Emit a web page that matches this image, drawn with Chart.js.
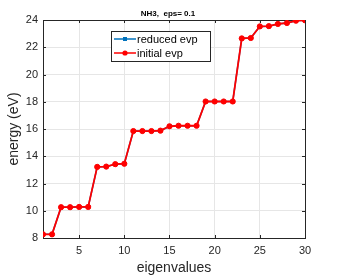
<!DOCTYPE html>
<html><head><meta charset="utf-8">
<script src="https://cdn.jsdelivr.net/npm/chart.js@4/dist/chart.umd.min.js"></script>
<style>html,body{margin:0;padding:0;background:#fff}</style>
</head><body>
<canvas id="c" width="338" height="276"></canvas>
<script>
const eigenIndex = [1,2,3,4,5,6,7,8,9,10,11,12,13,14,15,16,17,18,19,20,21,22,23,24,25,26,27,28,29,30];
const reducedEvp = [8.27,8.27,10.26,10.26,10.28,10.28,13.22,13.24,13.42,13.45,15.85,15.85,15.85,15.88,16.2,16.24,16.24,16.24,18.02,18.02,18.02,18.02,22.65,22.68,23.53,23.55,23.71,23.78,23.95,23.98];
const initialEvp = [8.27,8.27,10.26,10.26,10.28,10.28,13.22,13.24,13.42,13.45,15.85,15.85,15.85,15.88,16.2,16.24,16.24,16.24,18.02,18.02,18.02,18.02,22.65,22.68,23.53,23.55,23.71,23.78,23.95,23.98];
const xTicks = [5,10,15,20,25,30];
const yTicks = [8,10,12,14,16,18,20,22,24];
const seriesNames = ['reduced evp','initial evp'];
const chartTitle = 'NH3,  eps= 0.1';
const xLabel = 'eigenvalues';
const yLabel = 'energy (eV)';

const BLUE = '#0072BD', RED = '#FF0000', AX = '#262626';
const FONT = 'Liberation Sans, Arial, Helvetica, sans-serif';

const toPts = arr => eigenIndex.map((x,i)=>({x:x,y:arr[i]}));

const boxPlugin = {
  id:'boxPlugin',
  beforeDatasetsDraw(chart){
    const {ctx, chartArea:a, scales} = chart;
    ctx.save();
    ctx.strokeStyle = AX; ctx.lineWidth = 1;
    ctx.strokeRect(Math.round(a.left)+0.5, Math.round(a.top)+0.5, Math.round(a.right-a.left), Math.round(a.bottom-a.top));
    const tl = 3;
    ctx.beginPath();
    xTicks.forEach(v=>{const px=Math.round(scales.x.getPixelForValue(v))+0.5;
      ctx.moveTo(px,a.bottom); ctx.lineTo(px,a.bottom-tl);
      ctx.moveTo(px,a.top); ctx.lineTo(px,a.top+tl);});
    yTicks.forEach(v=>{const py=Math.round(scales.y.getPixelForValue(v))+0.5;
      ctx.moveTo(a.left,py); ctx.lineTo(a.left+tl,py);
      ctx.moveTo(a.right,py); ctx.lineTo(a.right-tl,py);});
    ctx.stroke();
    ctx.restore();
  },
  afterDraw(chart){
    const {ctx} = chart;
    ctx.save();
    ctx.fillStyle = '#000';
    ctx.font = 'bold 8px ' + FONT;
    ctx.textAlign = 'center'; ctx.textBaseline = 'middle';
    ctx.fillText(chartTitle, 168, 14);
    const lx=111, ly=31, lw=99, lh=30;
    ctx.fillStyle='#fff'; ctx.fillRect(lx,ly,lw,lh);
    ctx.strokeStyle='#262626'; ctx.lineWidth=1;
    ctx.strokeRect(lx+0.5,ly+0.5,lw,lh);
    const rows=[{c:BLUE,sq:true,y:39},{c:RED,sq:false,y:53}];
    rows.forEach((r,i)=>{
      ctx.strokeStyle=r.c; ctx.fillStyle=r.c; ctx.lineWidth=1.5;
      ctx.beginPath(); ctx.moveTo(114,r.y); ctx.lineTo(136,r.y); ctx.stroke();
      ctx.beginPath();
      if(r.sq){ctx.fillRect(123,r.y-2,4,4);} else {ctx.arc(125,r.y,2.6,0,Math.PI*2); ctx.fill();}
      ctx.fillStyle='#000'; ctx.font='11px '+FONT; ctx.textAlign='left'; ctx.textBaseline='middle';
      ctx.fillText(seriesNames[i],137,r.y+0.5);
    });
    ctx.restore();
  }
};

new Chart(document.getElementById('c'), {
  type:'line',
  data:{datasets:[
    {label:seriesNames[0], data:toPts(reducedEvp), borderColor:BLUE, backgroundColor:BLUE, borderWidth:1.5, pointStyle:'rect', pointRadius:2.2, pointBorderWidth:1, pointHoverRadius:2.2, order:2},
    {label:seriesNames[1], data:toPts(initialEvp), borderColor:RED, backgroundColor:RED, borderWidth:1.8, pointStyle:'circle', pointRadius:2.6, pointBorderWidth:1, pointHoverRadius:2.6, order:1}
  ]},
  options:{
    responsive:false, animation:false,
    layout:{padding:{top:20,right:33,left:0,bottom:0}},
    plugins:{legend:{display:false}, tooltip:{enabled:false}, title:{display:false}},
    scales:{
      x:{type:'linear', min:1, max:30,
        afterBuildTicks:s=>{s.ticks=xTicks.map(v=>({value:v}));},
        afterFit:s=>{s.height=38;},
        grid:{color:'#e6e6e6', drawTicks:false},
        border:{display:false},
        ticks:{color:AX, font:{family:FONT,size:11}, padding:6, maxRotation:0},
        title:{display:true, text:xLabel, color:AX, font:{family:FONT,size:14,lineHeight:1}, padding:{top:0,bottom:1}}
      },
      y:{type:'linear', min:8, max:24,
        afterBuildTicks:s=>{s.ticks=yTicks.map(v=>({value:v}));},
        afterFit:s=>{s.width=43;},
        grid:{color:'#e6e6e6', drawTicks:false},
        border:{display:false},
        ticks:{color:AX, font:{family:FONT,size:11}, padding:5},
        title:{display:true, text:yLabel, color:AX, font:{family:FONT,size:14,lineHeight:1}, padding:{top:7,bottom:0}}
      }
    }
  },
  plugins:[boxPlugin]
});
</script>
</body></html>
